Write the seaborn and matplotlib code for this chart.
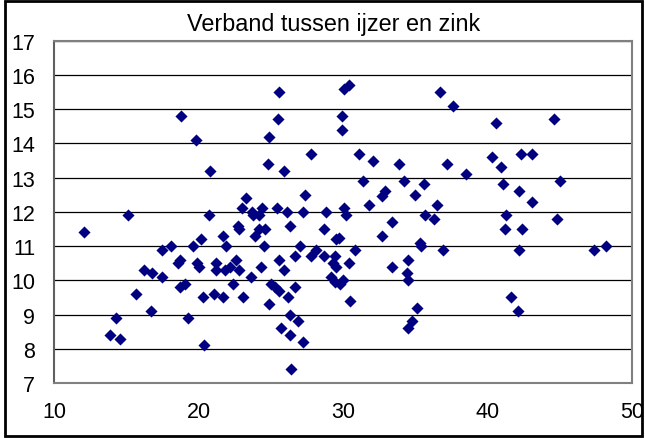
import matplotlib
matplotlib.use("Agg")
import matplotlib.pyplot as plt
import seaborn as sns
import pandas as pd
from matplotlib.patches import Rectangle

ijzer = [12.1, 13.9, 14.6, 14.3, 15.1, 15.7, 16.2, 16.7, 16.8, 17.5,
         17.5, 18.1, 18.7, 18.6, 18.7, 19.1, 18.8, 19.3, 19.6, 19.8,
         19.9, 20.0, 20.2, 20.3, 20.4, 20.7, 20.8, 21.1, 21.2, 21.2,
         21.7, 21.9, 21.7, 21.8, 22.2, 22.6, 22.8, 22.4, 22.7, 22.8,
         23.0, 23.3, 23.7, 23.75, 24.4, 24.2, 23.9, 24.2, 24.6, 24.5,
         24.3, 23.6, 23.1, 24.9, 25.0, 25.3, 25.6, 24.9, 24.8, 25.5,
         25.6, 25.4, 25.9, 26.1, 26.3, 25.6, 25.9, 26.2, 26.7, 26.3,
         26.9, 25.7, 26.3, 27.2, 26.4, 26.7, 27.0, 27.25, 27.4, 27.8,
         28.1, 27.8, 28.7, 28.7, 28.8, 29.45, 29.3, 29.5, 29.15, 29.45,
         29.8, 30.0, 29.5, 29.7, 29.9, 29.9, 30.4, 30.1, 30.1, 30.2,
         30.4, 30.8, 30.5, 31.1, 31.4, 31.8, 32.1, 32.7, 32.9, 32.7,
         33.4, 33.4, 33.9, 34.2, 35.0, 34.5, 34.4, 34.5, 35.1, 34.8,
         34.5, 35.3, 35.4, 35.6, 35.7, 36.3, 36.5, 36.7, 36.9, 37.2,
         37.6, 38.5, 40.3, 40.6, 40.9, 41.1, 41.3, 41.2, 41.6, 42.1,
         42.2, 42.2, 42.3, 42.4, 43.1, 43.1, 44.6, 45.0, 44.8, 47.4,
         48.2]
zink = [11.4, 8.4, 8.3, 8.9, 11.9, 9.6, 10.3, 9.1, 10.2, 10.9,
        10.1, 11.0, 10.6, 10.5, 9.8, 9.9, 14.8, 8.9, 11.0, 14.1,
        10.5, 10.4, 11.2, 9.5, 8.1, 11.9, 13.2, 9.6, 10.5, 10.3,
        11.3, 11.0, 9.5, 10.3, 10.4, 10.6, 10.3, 9.9, 11.6, 11.5,
        12.1, 12.4, 12.0, 11.9, 12.1, 11.9, 11.3, 11.5, 11.5, 11.0,
        10.4, 10.1, 9.5, 9.3, 9.9, 9.8, 9.7, 14.2, 13.4, 14.7,
        15.5, 12.1, 13.2, 12.0, 11.6, 10.6, 10.3, 9.5, 9.8, 9.0,
        8.8, 8.6, 8.4, 8.2, 7.4, 10.7, 11.0, 12.0, 12.5, 13.7,
        10.9, 10.7, 10.7, 11.5, 12.0, 10.7, 10.5, 10.4, 10.1, 9.95,
        9.9, 10.0, 11.2, 11.25, 14.8, 14.4, 15.7, 15.6, 12.1, 11.9,
        10.5, 10.9, 9.4, 13.7, 12.9, 12.2, 13.5, 12.45, 12.6, 11.3,
        11.7, 10.4, 13.4, 12.9, 12.5, 10.6, 10.2, 10.0, 9.2, 8.8,
        8.6, 11.1, 11.0, 12.8, 11.9, 11.8, 12.2, 15.5, 10.9, 13.4,
        15.1, 13.1, 13.6, 14.6, 13.3, 12.8, 11.9, 11.5, 9.5, 9.1,
        10.9, 12.6, 13.7, 11.5, 13.7, 12.3, 14.7, 12.9, 11.8, 10.9,
        11.0]

title = "Verband tussen ijzer en zink"
x_ticks = [10, 20, 30, 40, 50]
y_ticks = [7, 8, 9, 10, 11, 12, 13, 14, 15, 16, 17]

df = pd.DataFrame({"ijzer": ijzer, "zink": zink})

sns.set_style("white")
plt.rcParams["font.family"] = ["Liberation Sans", "DejaVu Sans"]

fig = plt.figure(figsize=(6.45, 4.39), dpi=100)
ax = fig.add_axes([54/645, 1-384/439, (632-54)/645, (384-41.7)/439])

sns.scatterplot(data=df, x="ijzer", y="zink", ax=ax, marker="D",
                color="#000080", s=38, linewidth=0, zorder=3)

ax.set_xlim(10, 50)
ax.set_ylim(7, 17)
ax.set_xticks(x_ticks)
ax.set_yticks(y_ticks)
ax.set_xlabel("")
ax.set_ylabel("")
ax.yaxis.grid(True, color="black", linewidth=0.9)
ax.xaxis.grid(False)
ax.set_axisbelow(True)

for side in ["top", "right"]:
    ax.spines[side].set_color("#808080")
    ax.spines[side].set_linewidth(1.5)
ax.spines["left"].set_color("#606060")
ax.spines["left"].set_linewidth(1.5)
ax.spines["bottom"].set_color("#808080")
ax.spines["bottom"].set_linewidth(1.5)

ax.tick_params(axis="both", which="major", direction="out",
               width=1, color="#404040", labelsize=15.5, labelcolor="black")
ax.tick_params(axis="y", length=4, pad=9.5)
ax.tick_params(axis="x", length=5.5, pad=7.5)

fig.text(0.517, 1-25/439, title, ha="center", va="center", fontsize=16.8,
         color="black")

fig.add_artist(Rectangle((0.007, 0.004), 0.989, 0.992, transform=fig.transFigure,
                         fill=False, edgecolor="black", linewidth=2))

fig.savefig("out.png", dpi=100)
